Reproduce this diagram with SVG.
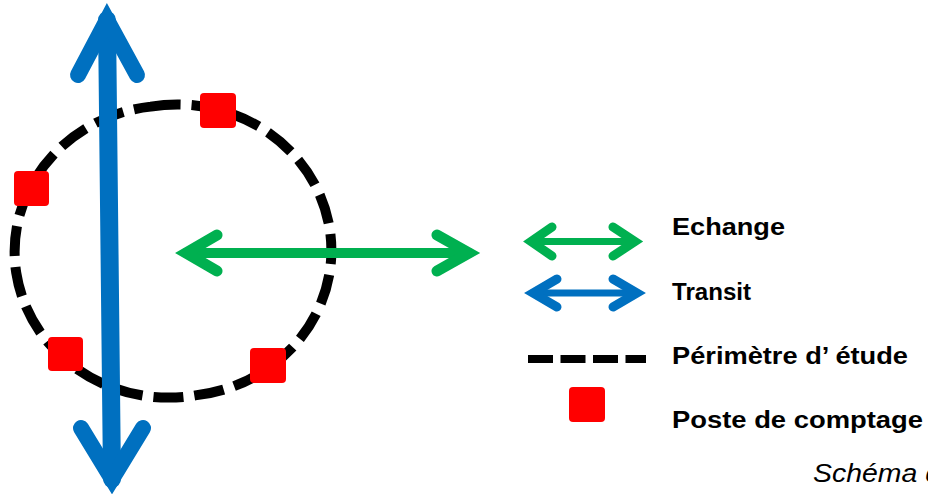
<svg xmlns="http://www.w3.org/2000/svg" width="928" height="494" viewBox="0 0 928 494">
<style>
.blue{stroke:#0070C0;fill:none;stroke-linecap:round;stroke-linejoin:miter}
.green{stroke:#00B050;fill:none;stroke-linecap:round;stroke-linejoin:miter}
.sq{fill:#FF0000}
.lbl{font-family:"Liberation Sans",Arial,sans-serif;font-weight:bold;font-size:23px;fill:#000}
.cap{font-family:"Liberation Sans",Arial,sans-serif;font-style:italic;font-size:25px;fill:#000}
</style>
<g id="perimeter">
<path d="M150.7 106.6 A154 146 0 1 1 195.3 395.4 A154 146 0 1 1 150.7 106.6 Z" fill="none" stroke="#000" stroke-width="10" stroke-dasharray="30 11"/>
</g>
<g id="connectors">
<g id="transit-arrow">
<line class="blue" x1="107" y1="20" x2="112" y2="479" stroke-width="18" stroke-linecap="butt"/>
<polyline class="blue" points="78,75 107,20 137,75" stroke-width="16"/>
<polyline class="blue" points="81,428 112,479 143,428" stroke-width="16"/>
</g>
<g id="echange-arrow">
<line class="green" x1="186" y1="253" x2="469" y2="253" stroke-width="10" stroke-linecap="butt"/>
<polyline class="green" points="217,235 186,253 217,271" stroke-width="11"/>
<polyline class="green" points="437,235 469,253 437,271" stroke-width="11"/>
</g>
</g>
<g id="postes">
<rect id="poste1" class="sq" x="200" y="93" width="36" height="35" rx="4"/>
<rect id="poste2" class="sq" x="14" y="171" width="35" height="35" rx="4"/>
<rect id="poste3" class="sq" x="48" y="337" width="35" height="34" rx="4"/>
<rect id="poste4" class="sq" x="250" y="348" width="36" height="35" rx="4"/>
</g>
<g id="legend">
<g id="legend-echange">
<line class="green" x1="531" y1="241.5" x2="635" y2="241.5" stroke-width="7" stroke-linecap="butt"/>
<polyline class="green" points="552,227 531,241.5 552,256" stroke-width="9"/>
<polyline class="green" points="613,227 635,241.5 613,256" stroke-width="9"/>
<text class="lbl" x="672" y="235" textLength="113" lengthAdjust="spacingAndGlyphs">Echange</text>
</g>
<g id="legend-transit">
<line class="blue" x1="533" y1="293" x2="637" y2="293" stroke-width="7" stroke-linecap="butt"/>
<polyline class="blue" points="557,279 533,293 557,307" stroke-width="9"/>
<polyline class="blue" points="613,279 637,293 613,307" stroke-width="9"/>
<text class="lbl" x="672" y="300" textLength="79" lengthAdjust="spacingAndGlyphs">Transit</text>
</g>
<g id="legend-perimetre">
<line x1="528" y1="359" x2="646" y2="359" stroke="#000" stroke-width="8" stroke-dasharray="25 7.5"/>
<text class="lbl" x="672" y="364" textLength="236" lengthAdjust="spacingAndGlyphs">Périmètre d’ étude</text>
</g>
<g id="legend-poste">
<rect class="sq" x="569" y="387" width="36" height="35" rx="4"/>
<text class="lbl" x="672" y="428" textLength="251" lengthAdjust="spacingAndGlyphs">Poste de comptage</text>
</g>
</g>
<text class="cap" x="813" y="482" textLength="128" lengthAdjust="spacingAndGlyphs">Schéma d</text>
</svg>
